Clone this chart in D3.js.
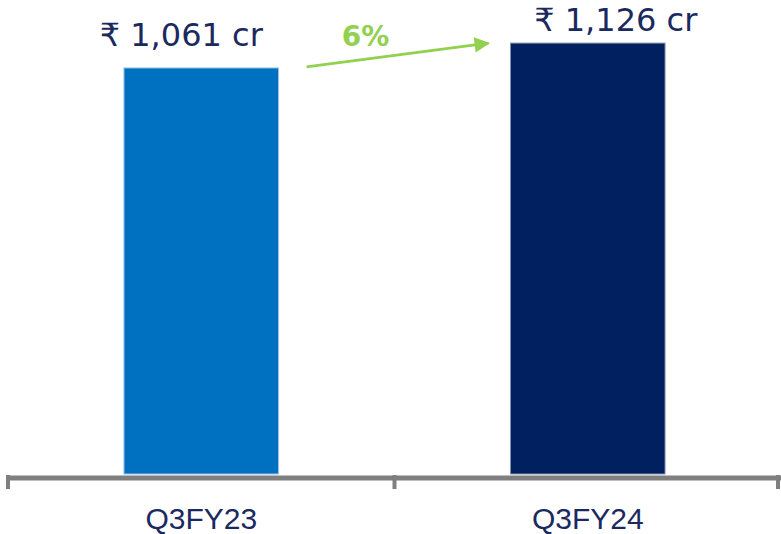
<!DOCTYPE html>
<html>
<head>
<meta charset="utf-8">
<script src="https://cdn.jsdelivr.net/npm/d3@7"></script>
<style>
  html, body { margin: 0; padding: 0; background: #fff; }
  svg { display: block; font-family: "Liberation Sans", Arial, sans-serif; }
</style>
</head>
<body>
<svg id="chart"></svg>
<script>
// data
const categories = ["Q3FY23", "Q3FY24"];
const values = [1061, 1126];
const valueLabels = ["₹ 1,061 cr", "₹ 1,126 cr"];
const growthLabel = "6%";

const width = 781;
const height = 534;
const baseline = 474;

const barColors = ["#0070C0", "#002060"];
const barStroke = ["#9DC3E6", "#8593B0"];
const textColor = "#1B2A5E";
const green = "#92D050";

// label offsets (relative to bar center / bar top)
const labelDx = [-20, 28];
const labelDy = [-22, -12];

const svg = d3.select("#chart")
    .attr("width", width)
    .attr("height", height)
    .attr("viewBox", [0, 0, width, height]);

const x = d3.scaleBand()
    .domain(categories)
    .range([8, 781])
    .padding(0);

const y = d3.scaleLinear()
    .domain([0, 1200])
    .range([baseline, baseline - 1200 * 0.3827]);

const barW = x.bandwidth() * 0.4;

// bars
svg.append("g")
    .selectAll("rect")
    .data(values)
    .join("rect")
    .attr("x", (d, i) => x(categories[i]) + (x.bandwidth() - barW) / 2)
    .attr("y", d => y(d))
    .attr("width", barW)
    .attr("height", d => y(0) - y(d))
    .attr("fill", (d, i) => barColors[i])
    .attr("stroke", (d, i) => barStroke[i])
    .attr("stroke-width", 1);

// x axis
svg.append("g")
    .attr("transform", `translate(0,${baseline + 3.5})`)
    .call(d3.axisBottom(x).tickSize(0).tickPadding(0).tickFormat(""))
    .call(g => g.select(".domain")
        .attr("stroke", "#7F7F7F")
        .attr("stroke-width", 5))
    .call(g => g.selectAll(".tick").remove());

// tick marks at band edges
const edges = categories.map(c => x(c)).concat([x.range()[1] - 3]);
svg.append("g")
    .selectAll("line")
    .data(edges)
    .join("line")
    .attr("x1", d => d)
    .attr("x2", d => d)
    .attr("y1", baseline + 1)
    .attr("y2", baseline + 15)
    .attr("stroke", "#7F7F7F")
    .attr("stroke-width", 4);

// category labels
svg.append("g")
    .selectAll("text")
    .data(categories)
    .join("text")
    .attr("x", d => x(d) + x.bandwidth() / 2)
    .attr("y", 529)
    .attr("text-anchor", "middle")
    .attr("fill", textColor)
    .attr("font-size", "30px")
    .text(d => d);

// value labels
svg.append("g")
    .selectAll("text")
    .data(values)
    .join("text")
    .attr("x", (d, i) => x(categories[i]) + x.bandwidth() / 2 + labelDx[i])
    .attr("y", (d, i) => y(d) + labelDy[i])
    .attr("text-anchor", "middle")
    .attr("fill", textColor)
    .attr("font-family", "'DejaVu Sans', sans-serif")
    .attr("font-size", "32px")
    .text((d, i) => valueLabels[i]);

// growth arrow
svg.append("defs").append("marker")
    .attr("id", "arrow")
    .attr("viewBox", "0 0 10 10")
    .attr("refX", 9)
    .attr("refY", 5)
    .attr("markerWidth", 6)
    .attr("markerHeight", 5.5)
    .attr("markerUnits", "strokeWidth")
    .attr("orient", "auto")
    .append("path")
    .attr("d", "M0,0L10,5L0,10Z")
    .attr("fill", green);

const x0 = x(categories[0]) + (x.bandwidth() + barW) / 2 + 28;
const x1 = x(categories[1]) + (x.bandwidth() - barW) / 2 - 22;
svg.append("line")
    .attr("x1", x0)
    .attr("y1", y(values[0]) - 1)
    .attr("x2", x1)
    .attr("y2", y(values[1]))
    .attr("stroke", green)
    .attr("stroke-width", 2.8)
    .attr("marker-end", "url(#arrow)");

svg.append("text")
    .attr("x", (x0 + x1) / 2 - 32)
    .attr("y", 46)
    .attr("text-anchor", "middle")
    .attr("fill", green)
    .attr("font-family", "'DejaVu Sans', sans-serif")
    .attr("font-size", "28px")
    .attr("font-weight", "bold")
    .text(growthLabel);
</script>
</body>
</html>
